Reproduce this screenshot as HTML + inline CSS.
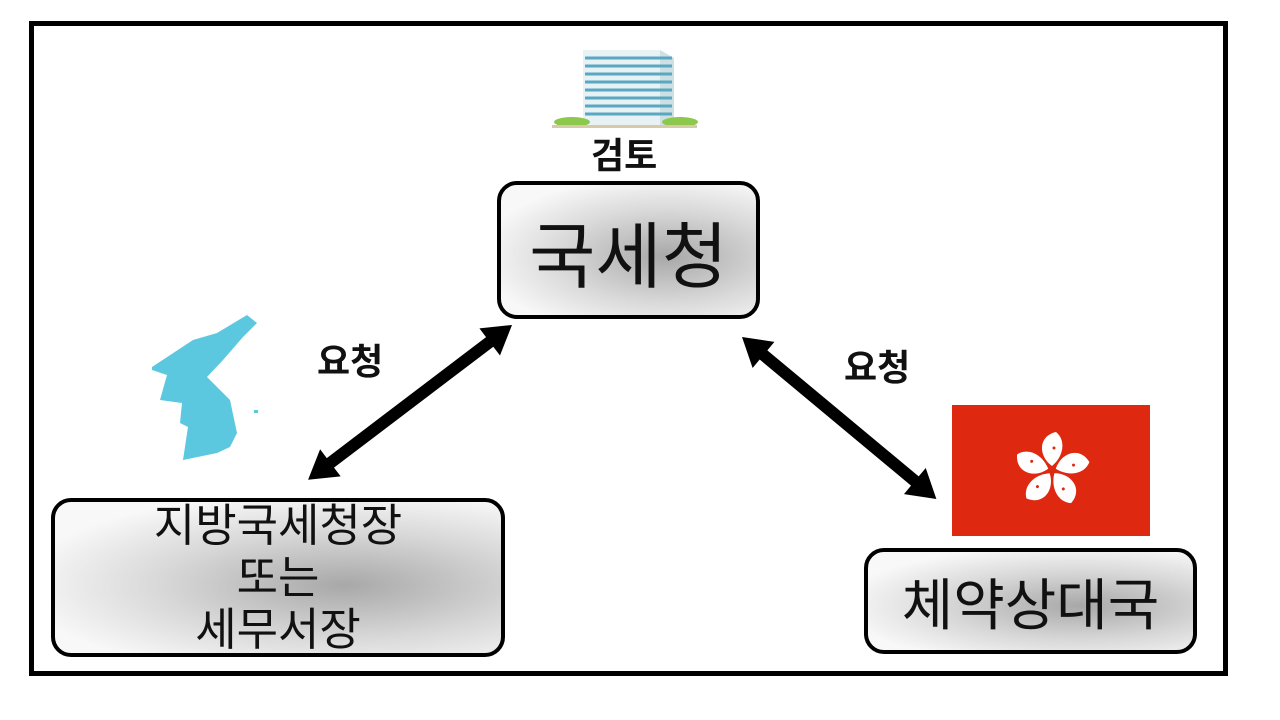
<!DOCTYPE html>
<html><head><meta charset="utf-8"><style>
body{margin:0;width:1280px;height:720px;background:#fff;position:relative;overflow:hidden;font-family:"Liberation Sans","Noto Sans CJK KR",sans-serif}
.frame{position:absolute;left:29px;top:21px;width:1189px;height:645px;border:5px solid #000}
.box{position:absolute;border:4px solid #000;border-radius:20px;box-sizing:border-box;background:radial-gradient(ellipse at 65% 55%,#a8a8a8 0%,#d8d8d8 45%,#f8f8f8 80%);display:flex;align-items:center;justify-content:center;text-align:center;color:#111}
.lbl{position:absolute;font-weight:bold;font-size:36px;color:#111;line-height:40px}
</style></head><body>
<div class="frame"></div>
<svg width="1280" height="720" style="position:absolute;left:0;top:0">
<g>
<polygon points="583,50 660,50 674,58 674,128 583,128" fill="#e8f2f4"/>
<polygon points="660,50 674,58 674,128 660,128" fill="#cfe0e4"/>
<g stroke="#5aa7c2" stroke-width="3">
<line x1="585" y1="58" x2="672" y2="58"/><line x1="585" y1="66" x2="672" y2="66"/><line x1="585" y1="74" x2="672" y2="74"/><line x1="585" y1="82" x2="672" y2="82"/><line x1="585" y1="90" x2="672" y2="90"/><line x1="585" y1="98" x2="672" y2="98"/><line x1="585" y1="106" x2="672" y2="106"/><line x1="585" y1="114" x2="672" y2="114"/>
</g>
<ellipse cx="572" cy="122" rx="18" ry="5" fill="#8cc84b"/><ellipse cx="680" cy="122" rx="18" ry="5" fill="#8cc84b"/>
<rect x="552" y="125" width="145" height="3" fill="#d9c9a8"/>
</g>
<polygon fill="#5bc8e0" points="152,367 193,340 217,333 247,315 257,323 243,337 223,360 207,377 230,400 237,433 230,447 217,453 183,460 188,427 180,423 182,403 160,400 167,375 152,370"/>
<rect x="254" y="410" width="4" height="3" fill="#5bc8e0"/>
<g fill="#000">
<g transform="translate(512,325) rotate(142.8)">
<polygon points="0,0 28,-17 28,-6 228,-6 228,-17 256,0 228,17 228,6 28,6 28,17"/>
</g>
<g transform="translate(742,337) rotate(39.8)">
<polygon points="0,0 28,-17 28,-6 225,-6 225,-17 253,0 225,17 225,6 28,6 28,17"/>
</g>
</g>
<rect x="952" y="405" width="198" height="131" fill="#de2910"/>
<g transform="translate(1052,470)" fill="#fff">
<g id="p"><path d="M0,-4 C-14,-14 -14,-34 4,-38 C14,-30 12,-14 0,-4Z"/><circle cx="2" cy="-22" r="1.5" fill="#de2910"/></g>
<use href="#p" transform="rotate(72)"/><use href="#p" transform="rotate(144)"/><use href="#p" transform="rotate(216)"/><use href="#p" transform="rotate(288)"/>
</g>
</svg>
<div class="lbl" style="left:591px;top:136px">검토</div>
<div class="lbl" style="left:317px;top:342px">요청</div>
<div class="lbl" style="left:844px;top:348px">요청</div>
<div class="box" style="left:497px;top:181px;width:263px;height:138px;font-size:72px">국세청</div>
<div class="box" style="left:51px;top:498px;width:454px;height:159px;font-size:45px;line-height:52px">지방국세청장<br>또는<br>세무서장</div>
<div class="box" style="left:864px;top:548px;width:333px;height:106px;font-size:56px">체약상대국</div>
</body></html>
